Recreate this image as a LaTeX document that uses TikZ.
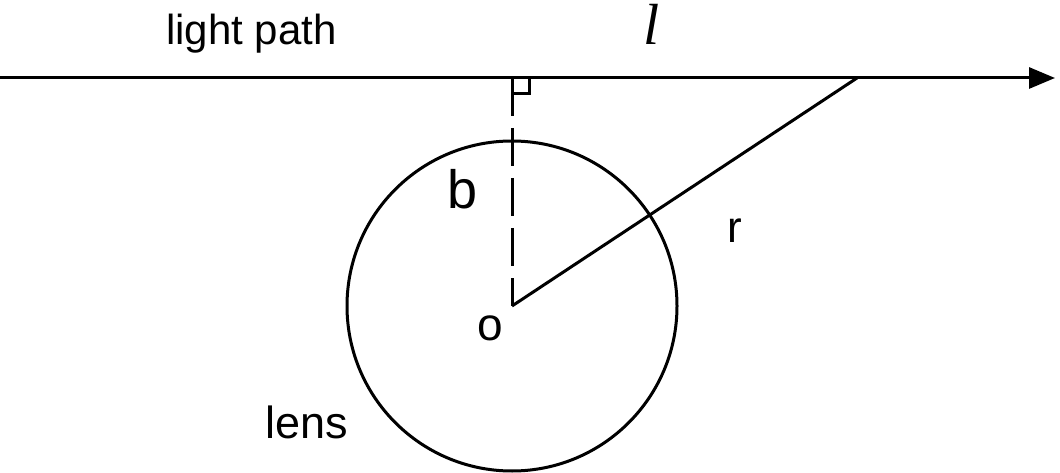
\documentclass[tikz,border=0pt]{standalone}
\usepackage{fontspec}
\setmainfont{Liberation Sans}
\newfontfamily\serifit{Liberation Serif}
\usetikzlibrary{arrows.meta}
\tikzset{
  ln/.style={line width=3pt, draw=black},
  lbl/.style={inner sep=0pt, anchor=base west, font=\fontsize{44}{48}\selectfont},
}
\begin{document}
\begin{tikzpicture}[x=1pt,y=-1pt]
\useasboundingbox (0,0) rectangle (1060,473);
\coordinate (S) at (0,78);
\coordinate (E) at (1055,78);
\coordinate (F) at (512,78);
\coordinate (O) at (512,306);
\coordinate (P) at (857,78);
\coordinate (Q1) at (512,94);
\coordinate (Q2) at (529,94);
\coordinate (Q3) at (529,78);
\draw[ln, -{Triangle[length=26pt,width=21pt]}] (S) -- (E);
\draw[ln] (O) circle[radius=165];
\draw[ln, dash pattern=on 38pt off 12pt] (F) -- (O);
\draw[ln] (O) -- (P);
\draw[ln] (Q1) -- (Q2) -- (Q3);
\node[lbl, font=\fontsize{42}{46}\selectfont] (lp) at (166,45) {light path};
\node[inner sep=0pt, anchor=base west, font=\serifit\itshape\fontsize{58}{60}\selectfont] (l) at (643,45) {l};
\node[lbl, font=\fontsize{54}{58}\selectfont] (b) at (447,209) {b};
\node[lbl] (r) at (727,242) {r};
\node[lbl, font=\fontsize{46}{50}\selectfont] (o) at (477,340) {o};
\node[lbl, font=\fontsize{45}{50}\selectfont] (lens) at (265,438) {lens};
\end{tikzpicture}
\end{document}
